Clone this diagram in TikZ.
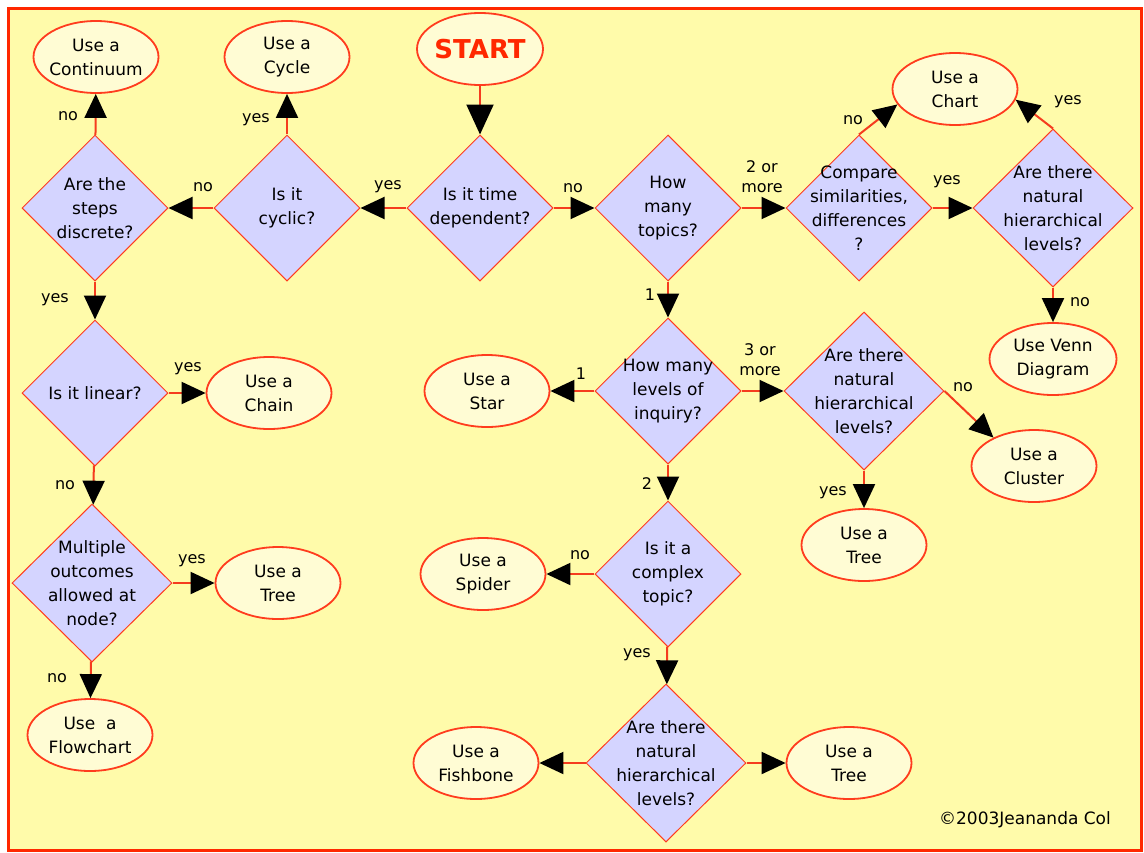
\documentclass[tikz,border=0pt]{standalone}
\usepackage{fontspec}
\setmainfont{DejaVu Sans}
\usetikzlibrary{shapes.geometric,arrows.meta}
\definecolor{bgyel}{RGB}{255,251,170}
\definecolor{ellfill}{RGB}{255,252,212}
\definecolor{diafill}{RGB}{212,212,255}
\definecolor{nodered}{RGB}{255,60,30}
\definecolor{linered}{RGB}{245,60,30}
\definecolor{framered}{RGB}{255,40,0}
\definecolor{startred}{RGB}{255,40,0}
\begin{document}
\begin{tikzpicture}[x=1pt,y=-1pt,
  dia/.style={diamond, draw=nodered, line width=1pt, fill=diafill, inner sep=0pt, minimum width=146pt, minimum height=146pt},
  bigdia/.style={dia, minimum width=160pt, minimum height=158pt},
  ell/.style={ellipse, draw=nodered, line width=1.8pt, fill=ellfill, inner sep=0pt, minimum width=125pt, minimum height=72pt},
  txt/.style={align=center, font=\fontsize{17}{24}\selectfont, inner sep=0pt},
  lbl/.style={font=\fontsize{16}{21}\selectfont, inner sep=0pt, align=center},
  conn/.style={draw=linered, line width=2pt, -{Triangle[length=24pt,width=22pt,color=black]}}
]
\useasboundingbox (0,0) rectangle (1144,852);
\fill[white] (0,0) rectangle (1144,852);
\draw[framered, line width=3pt, fill=bgyel] (8.5,8.5) rectangle (1141,850);

% ellipses
\node[ell, minimum width=126pt, label={[txt, font=\bfseries\fontsize{26}{30}\selectfont, text=startred]center:START}] (start) at (480,49) {};
\node[ell, label={[txt]center:Use a\\Continuum}] (cont) at (96,57) {};
\node[ell, label={[txt]center:Use a\\Cycle}] (cycle) at (287,57) {};
\node[ell, label={[txt]center:Use a\\Chart}] (chart) at (955,89) {};
\node[ell, minimum width=127pt, label={[txt]center:Use Venn\\Diagram}] (venn) at (1053,359) {};
\node[ell, label={[txt]center:Use a\\Star}] (star) at (487,391) {};
\node[ell, label={[txt]center:Use a\\Cluster}] (cluster) at (1034,466) {};
\node[ell, label={[txt]center:Use a\\Tree}] (treemid) at (864,545) {};
\node[ell, label={[txt]center:Use a\\Tree}] (treebot) at (849,763) {};
\node[ell, label={[txt]center:Use a\\Chain}] (chain) at (269,393) {};
\node[ell, label={[txt]center:Use a\\Tree}] (treeleft) at (278,583) {};
\node[ell, label={[txt]center:Use\ \ a\\Flowchart}] (flow) at (90,735) {};
\node[ell, label={[txt]center:Use a\\Spider}] (spider) at (483,574) {};
\node[ell, label={[txt]center:Use a\\Fishbone}] (fish) at (476,763) {};

% diamonds
\node[dia, label={[txt]center:Are the\\steps\\discrete?}] (steps) at (95,208) {};
\node[dia, label={[txt]center:Is it\\cyclic?}] (cyc) at (287,208) {};
\node[dia, label={[txt]center:Is it time\\dependent?}] (time) at (480,208) {};
\node[dia, label={[txt]center:How\\many\\topics?}] (topics) at (668,208) {};
\node[dia, label={[txt]center:Compare\\similarities,\\differences\\?}] (cmp) at (859,208) {};
\node[bigdia, label={[txt]center:Are there\\natural\\hierarchical\\levels?}] (hiertr) at (1053,208) {};
\node[dia, label={[txt]center:How many\\levels of\\inquiry?}] (levels) at (668,391) {};
\node[bigdia, label={[txt]center:Are there\\natural\\hierarchical\\levels?}] (hiermid) at (864,391) {};
\node[dia, label={[txt]center:Is it a\\complex\\topic?}] (complex) at (668,574) {};
\node[bigdia, label={[txt]center:Are there\\natural\\hierarchical\\levels?}] (hierbot) at (666,763) {};
\node[dia, label={[txt]center:Is it linear?}] (lin) at (95,393) {};
\node[bigdia, label={[txt]center:Multiple\\outcomes\\allowed at\\node?}] (multi) at (92,583) {};

% connectors
\draw[draw=linered, line width=2pt, -{Triangle[length=30pt,width=27pt,color=black]}] (start) -- (time);
\draw[conn] (time) -- (cyc);
\draw[conn] (cyc) -- (steps);
\draw[conn] (cyc) -- (cycle);
\draw[conn] (steps) -- (cont);
\draw[conn] (steps) -- (lin);
\draw[conn] (lin) -- (chain);
\draw[conn] (lin) -- (multi);
\draw[conn] (multi) -- (treeleft);
\draw[conn] (multi) -- (flow);
\draw[conn] (time) -- (topics);
\draw[conn] (topics) -- (cmp);
\draw[conn] (topics) -- (levels);
\draw[conn] (cmp.north) -- (chart.195);
\draw[conn] (cmp) -- (hiertr);
\draw[conn] (hiertr.north) -- (chart.-10);
\draw[conn] (hiertr) -- (venn);
\draw[conn] (levels) -- (star);
\draw[conn] (levels) -- (hiermid);
\draw[conn] (levels) -- (complex);
\draw[conn] (hiermid.east) -- (cluster.145);
\draw[conn] (hiermid) -- (treemid);
\draw[conn] (complex) -- (spider);
\draw[conn] (complex) -- (hierbot);
\draw[conn] (hierbot) -- (fish);
\draw[conn] (hierbot) -- (treebot);

% edge labels
\node[lbl] (l1) at (388,187) {yes};
\node[lbl] (l2) at (203,187) {no};
\node[lbl] (l3) at (256,120) {yes};
\node[lbl] (l4) at (68,116) {no};
\node[lbl] (l5) at (55,300) {yes};
\node[lbl] (l6) at (188,369) {yes};
\node[lbl] (l7) at (65,485) {no};
\node[lbl] (l8) at (192,561) {yes};
\node[lbl] (l9) at (57,678) {no};
\node[lbl] (l10) at (573,188) {no};
\node[lbl, font=\fontsize{16}{20}\selectfont] (l11) at (762,177) {2 or\\more};
\node[lbl] (l12) at (650,295) {1};
\node[lbl] (l13) at (853,120) {no};
\node[lbl] (l14) at (947,182) {yes};
\node[lbl] (l15) at (1068,102) {yes};
\node[lbl] (l16) at (1080,302) {no};
\node[lbl] (l17) at (581,374) {1};
\node[lbl, font=\fontsize{16}{20}\selectfont] (l18) at (760,360) {3 or\\more};
\node[lbl] (l19) at (647,484) {2};
\node[lbl] (l20) at (963,387) {no};
\node[lbl] (l21) at (833,493) {yes};
\node[lbl] (l22) at (580,555) {no};
\node[lbl] (l23) at (637,655) {yes};

\node[inner sep=0pt, font=\fontsize{17}{20}\selectfont] (copy) at (1025,820) {©2003Jeananda Col};
\end{tikzpicture}
\end{document}
